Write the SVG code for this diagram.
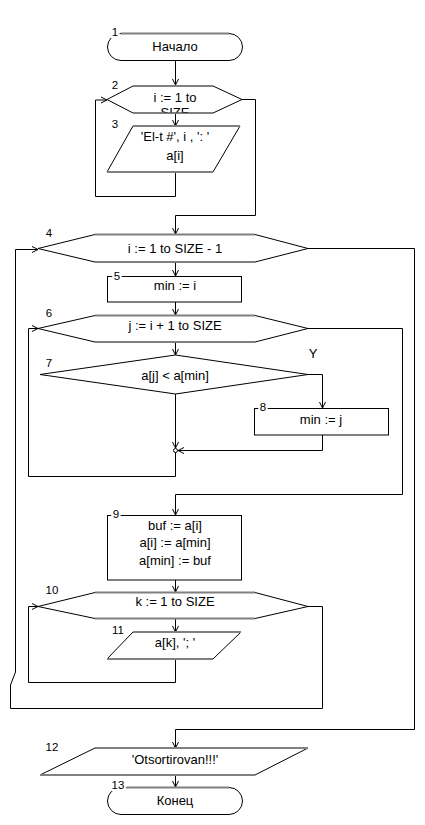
<svg xmlns="http://www.w3.org/2000/svg" width="425" height="825" viewBox="0 0 425 825">
<style>
.shape{fill:#fff;stroke:#000;stroke-width:1}
.edge{fill:none;stroke:#808080;stroke-width:2}
.conn{fill:none;stroke:#000;stroke-width:1}
.t{font-family:"Liberation Sans",Arial,sans-serif;font-size:13px;fill:#000;text-anchor:middle}
.n{font-family:"Liberation Sans",Arial,sans-serif;font-size:11.5px;fill:#000;text-anchor:middle;stroke:#fff;stroke-width:4;paint-order:stroke}
</style>
<defs>
<marker id="arr" markerWidth="8" markerHeight="8" refX="7" refY="4" orient="auto" markerUnits="userSpaceOnUse">
<path d="M1,1 L7,4 L1,7" fill="none" stroke="#000" stroke-width="1"/>
</marker>
<clipPath id="clip2"><rect x="100" y="86" width="150" height="26.5"/></clipPath>
</defs>
<rect width="425" height="825" fill="#fff"/>

<g id="connectors">
<path class="conn" d="M175.5,60 V85" marker-end="url(#arr)"/>
<path class="conn" d="M175.5,172 V196.5 H95.5 V100 H107" marker-end="url(#arr)"/>
<path class="conn" d="M242,99.5 H255.5 V215.5 H175.5 V234" marker-end="url(#arr)"/>
<path class="conn" d="M175.5,113 V126" marker-end="url(#arr)"/>
<path class="conn" d="M308,606.5 H322.5 V708.5 H10.5 V685 L15.5,672 V249.5 H38" marker-end="url(#arr)"/>
<path class="conn" d="M308,248.5 H414.5 V729.5 H175.5 V748" marker-end="url(#arr)"/>
<path class="conn" d="M175.5,262 V276" marker-end="url(#arr)"/>
<path class="conn" d="M175.5,302 V315" marker-end="url(#arr)"/>
<path class="conn" d="M175.5,342 V355" marker-end="url(#arr)"/>
<path class="conn" d="M308,374.5 H322.5 V408" marker-end="url(#arr)"/>
<path class="conn" d="M322.5,435 V450.5 H178" marker-end="url(#arr)"/>
<path class="conn" d="M175.5,394 V448" marker-end="url(#arr)"/>
<circle cx="175.5" cy="450.5" r="2" fill="#fff" stroke="#000" stroke-width="1"/>
<path class="conn" d="M175.5,452.5 V476.5 H28.5 V328.5 H38" marker-end="url(#arr)"/>
<path class="conn" d="M308,328.5 H402.5 V494.5 H175.5 V515" marker-end="url(#arr)"/>
<path class="conn" d="M175.5,580 V592" marker-end="url(#arr)"/>
<path class="conn" d="M175.5,618 V632" marker-end="url(#arr)"/>
<path class="conn" d="M175.5,659 V682.5 H28.5 V606.5 H38" marker-end="url(#arr)"/>
<path class="conn" d="M175.5,775 V787" marker-end="url(#arr)"/>
</g>

<g id="node1">
<rect class="shape" x="107.5" y="33.5" width="135" height="27" rx="13.5" ry="13.5"/>
<line class="edge" x1="121" y1="33.5" x2="229" y2="33.5"/>
<text class="n" x="115" y="36">1</text>
<text class="t" x="175" y="51">Начало</text>
</g>

<g id="node2">
<polygon class="shape" points="107,99.5 133,86 213,86 242,99.5 213,113 133,113"/>
<line class="edge" x1="133" y1="86" x2="213" y2="86"/>
<line class="edge" x1="133" y1="113" x2="213" y2="113"/>
<text class="n" x="115" y="89">2</text>
<g clip-path="url(#clip2)">
<text class="t" x="175" y="101.5">i := 1 to</text>
<text class="t" x="175" y="116.5">SIZE</text>
</g>
</g>

<g id="node3">
<polygon class="shape" points="133,126 240,126 213,172 107,172"/>
<line class="edge" x1="133" y1="126" x2="240" y2="126"/>
<line class="edge" x1="107" y1="172" x2="213" y2="172"/>
<text class="n" x="115" y="128">3</text>
<text class="t" x="175" y="141">'El-t #', i , ': '</text>
<text class="t" x="175" y="159.5">a[i]</text>
</g>

<g id="node4">
<polygon class="shape" points="38,248.5 95,234.5 255,234.5 308,248.5 255,262 95,262"/>
<line class="edge" x1="95" y1="234.5" x2="255" y2="234.5"/>
<line class="edge" x1="95" y1="262" x2="255" y2="262"/>
<text class="n" x="49" y="237">4</text>
<text class="t" x="175" y="252.5">i := 1 to SIZE - 1</text>
</g>

<g id="node5">
<rect class="shape" x="107.5" y="276.5" width="134" height="25.5"/>
<text class="n" x="117" y="280">5</text>
<text class="t" x="175" y="289.5">min := i</text>
</g>

<g id="node6">
<polygon class="shape" points="38,328.5 95,315.5 255,315.5 308,328.5 255,342 95,342"/>
<line class="edge" x1="95" y1="315.5" x2="255" y2="315.5"/>
<line class="edge" x1="95" y1="342" x2="255" y2="342"/>
<text class="n" x="49" y="317">6</text>
<text class="t" x="175" y="329.5">j := i + 1 to SIZE</text>
</g>

<g id="node7">
<polygon class="shape" points="40,374.5 175.5,355 308,374.5 175.5,394"/>
<text class="n" x="49" y="367">7</text>
<text class="t" x="175" y="379.5">a[j] &lt; a[min]</text>
<text class="t" x="313" y="357.5">Y</text>
</g>

<g id="node8">
<rect class="shape" x="254.5" y="408.5" width="134" height="26.5"/>
<text class="n" x="263" y="411">8</text>
<text class="t" x="321" y="423.5">min := j</text>
</g>

<g id="node9">
<rect class="shape" x="107.5" y="515.5" width="134" height="64.5"/>
<text class="n" x="116" y="518">9</text>
<text class="t" x="175" y="529.5">buf := a[i]</text>
<text class="t" x="175" y="547">a[i] := a[min]</text>
<text class="t" x="175" y="564.5">a[min] := buf</text>
</g>

<g id="node10">
<polygon class="shape" points="38,606.5 95,592.5 255,592.5 308,606.5 255,618.5 95,618.5"/>
<line class="edge" x1="95" y1="592.5" x2="255" y2="592.5"/>
<line class="edge" x1="95" y1="618.5" x2="255" y2="618.5"/>
<text class="n" x="52" y="594">10</text>
<text class="t" x="175" y="606">k := 1 to SIZE</text>
</g>

<g id="node11">
<polygon class="shape" points="133,632 241,632 213,659 107,659"/>
<line class="edge" x1="133" y1="632" x2="241" y2="632"/>
<line class="edge" x1="107" y1="659" x2="213" y2="659"/>
<text class="n" x="118" y="634">11</text>
<text class="t" x="175" y="647">a[k], '; '</text>
</g>

<g id="node12">
<polygon class="shape" points="95,748 308,748 255,775 40,775"/>
<line class="edge" x1="95" y1="748" x2="308" y2="748"/>
<line class="edge" x1="40" y1="775" x2="255" y2="775"/>
<text class="n" x="52" y="751">12</text>
<text class="t" x="175" y="763.5">'Otsortirovan!!!'</text>
</g>

<g id="node13">
<rect class="shape" x="107.5" y="787.5" width="135" height="27" rx="13.5" ry="13.5"/>
<line class="edge" x1="121" y1="787.5" x2="229" y2="787.5"/>
<text class="n" x="118" y="789">13</text>
<text class="t" x="175" y="805">Конец</text>
</g>
</svg>
